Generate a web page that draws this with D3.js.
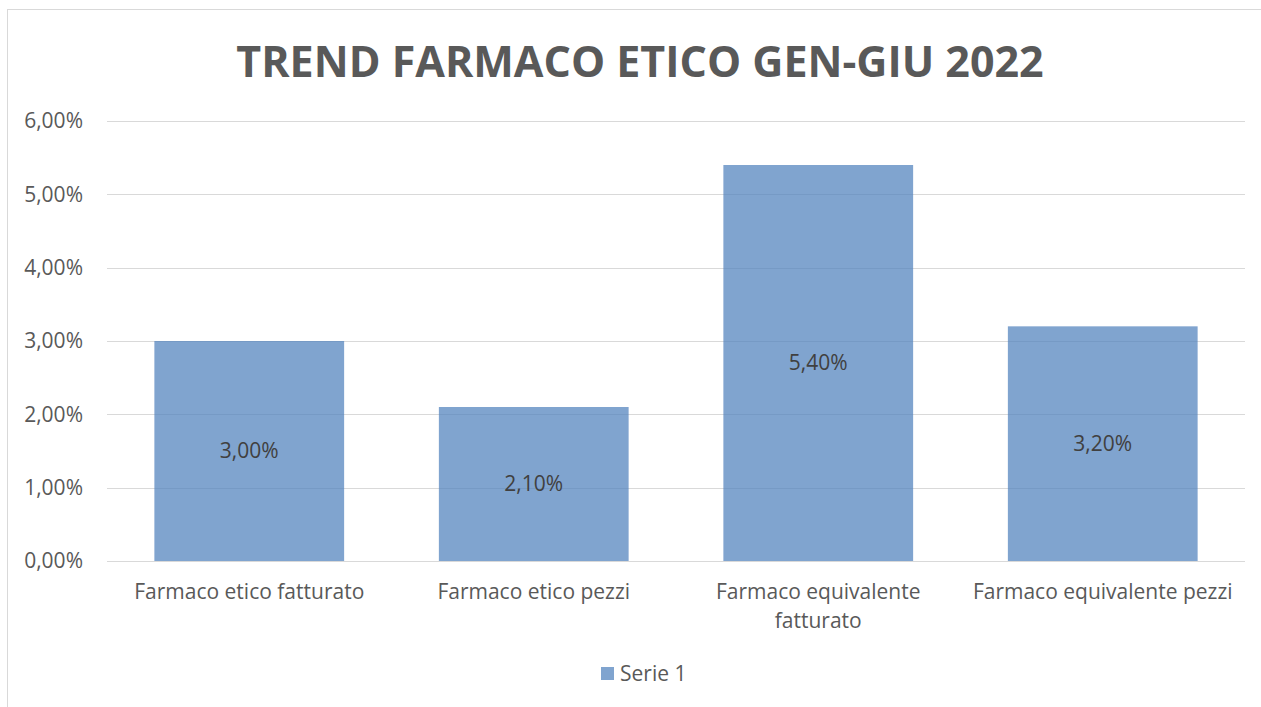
<!DOCTYPE html>
<head>
  <meta charset="utf-8">
  <script src="https://d3js.org/d3.v7.min.js"></script>
  <style>
    body { margin:0; background:#fff; }
    text { font-family: "Open Sans", sans-serif; }
  </style>
</head>
<body>
<script>
// dati
var categories = ["Farmaco etico fatturato", "Farmaco etico pezzi", "Farmaco equivalente fatturato", "Farmaco equivalente pezzi"]
var values = [3.0, 2.1, 5.4, 3.2]
var yTicks = [0, 1, 2, 3, 4, 5, 6]
var seriesName = "Serie 1"
var title = "TREND FARMACO ETICO GEN-GIU 2022"

var W = 1261, H = 707
var margin = {top: 121, right: 16, bottom: 146, left: 107}
var fs = 21

var svg = d3.select("body").append("svg")
  .attr("width", W)
  .attr("height", H)

// bordo area grafico
svg.append("rect")
  .attr("x", 7.5).attr("y", 9.5)
  .attr("width", W).attr("height", H)
  .attr("fill", "none").attr("stroke", "#d9d9d9")

svg.append("text")
  .attr("x", 640).attr("y", 77)
  .attr("text-anchor", "middle")
  .attr("font-size", 43).attr("font-weight", "bold")
  .attr("fill", "#595959")
  .text(title)

var x = d3.scaleBand().domain(categories)
  .range([margin.left, W - margin.right])
  .paddingInner(0.333).paddingOuter(0.1665)

var y = d3.scaleLinear().domain([0, 6]).range([H - margin.bottom, margin.top])

var fmt = function(v){ return v.toFixed(2).replace(".", ",") + "%" }

// griglia
svg.append("g").selectAll("line")
  .data(yTicks.filter(function(d){ return d > 0 }))
  .enter().append("line")
  .attr("x1", margin.left).attr("x2", W - margin.right)
  .attr("y1", function(d){ return Math.round(y(d)) + 0.5 })
  .attr("y2", function(d){ return Math.round(y(d)) + 0.5 })
  .attr("stroke", "#d9d9d9")

// etichette asse y
svg.append("g").selectAll("text")
  .data(yTicks)
  .enter().append("text")
  .attr("x", 83)
  .attr("y", function(d){ return y(d) })
  .attr("dy", "0.35em")
  .attr("text-anchor", "end")
  .attr("font-size", fs)
  .attr("fill", "#595959")
  .text(fmt)

// barre
svg.append("g").selectAll("rect")
  .data(values)
  .enter().append("rect")
  .attr("x", function(d, i){ return x(categories[i]) })
  .attr("y", function(d){ return y(d) })
  .attr("width", x.bandwidth())
  .attr("height", function(d){ return y(0) - y(d) })
  .attr("fill", "#4f81bd")
  .attr("fill-opacity", 0.72)

// etichette dati
svg.append("g").selectAll("text")
  .data(values)
  .enter().append("text")
  .attr("x", function(d, i){ return x(categories[i]) + x.bandwidth() / 2 })
  .attr("y", function(d){ return (y(d) + y(0)) / 2 })
  .attr("dy", "0.35em")
  .attr("text-anchor", "middle")
  .attr("font-size", fs)
  .attr("fill", "#404040")
  .text(fmt)

// asse x
svg.append("line")
  .attr("x1", margin.left).attr("x2", W - margin.right)
  .attr("y1", Math.round(y(0)) + 0.5).attr("y2", Math.round(y(0)) + 0.5)
  .attr("stroke", "#d9d9d9")

// etichette categorie (a capo se troppo lunghe)
categories.forEach(function(c){
  var lines = c.length > 26 ? ["Farmaco equivalente", "fatturato"] : [c]
  var t = svg.append("text")
    .attr("text-anchor", "middle")
    .attr("font-size", fs)
    .attr("fill", "#595959")
  lines.forEach(function(l, j){
    t.append("tspan")
      .attr("x", x(c) + x.bandwidth() / 2)
      .attr("y", 599 + j * 29)
      .text(l)
  })
})

// legenda
svg.append("rect")
  .attr("x", 601).attr("y", 667)
  .attr("width", 13).attr("height", 13)
  .attr("fill", "#4f81bd").attr("fill-opacity", 0.72)
svg.append("text")
  .attr("x", 620).attr("y", 674)
  .attr("dy", "0.35em")
  .attr("font-size", fs)
  .attr("fill", "#595959")
  .text(seriesName)
</script>
</body>
